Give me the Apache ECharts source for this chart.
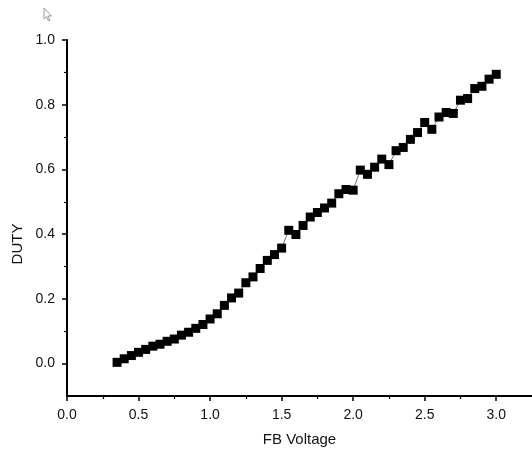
<!DOCTYPE html>
<html>
<head>
<meta charset="utf-8">
<script src="https://cdn.jsdelivr.net/npm/echarts@6/dist/echarts.min.js"></script>
<style>
html,body{margin:0;padding:0;background:#fff;}
#c{width:532px;height:456px;}
</style>
</head>
<body>
<div id="c"></div>
<script>
var fbVoltage = [0.35,0.40,0.45,0.50,0.55,0.60,0.65,0.70,0.75,0.80,
                 0.85,0.90,0.95,1.00,1.05,1.10,1.15,1.20,1.25,1.30,
                 1.35,1.40,1.45,1.50,1.55,1.60,1.65,1.70,1.75,1.80,
                 1.85,1.90,1.95,2.00,2.05,2.10,2.15,2.20,2.25,2.30,
                 2.35,2.40,2.45,2.50,2.55,2.60,2.65,2.70,2.75,2.80,
                 2.85,2.90,2.95,3.00];
var duty = [0.004,0.015,0.025,0.035,0.044,0.054,0.060,0.069,0.076,0.088,
            0.097,0.109,0.121,0.138,0.154,0.180,0.203,0.218,0.250,0.268,
            0.294,0.319,0.337,0.357,0.412,0.399,0.427,0.453,0.467,0.481,
            0.496,0.525,0.538,0.536,0.598,0.585,0.607,0.632,0.615,0.658,
            0.668,0.693,0.714,0.745,0.724,0.762,0.776,0.773,0.814,0.819,
            0.850,0.857,0.879,0.894];
var xTickLabels = [0.0,0.5,1.0,1.5,2.0,2.5,3.0];
var xMinorTicks = [0.25,0.75,1.25,1.75,2.25,2.75];
var yTickLabels = [0.0,0.2,0.4,0.6,0.8,1.0];
var yMinorTicks = [0.1,0.3,0.5,0.7,0.9];

var font = '"Liberation Sans", Arial, sans-serif';
var chart = echarts.init(document.getElementById('c'), null, {renderer:'canvas'});
var pts = fbVoltage.map(function(x,i){return [x, duty[i]];});

chart.setOption({
  animation:false,
  backgroundColor:'#ffffff',
  grid:{left:67, top:40, right:-1, bottom:60, containLabel:false},
  xAxis:[{
    type:'value', min:0, max:3.25, interval:0.5,
    name:'FB Voltage', nameLocation:'middle', nameGap:36,
    nameTextStyle:{fontFamily:font, fontSize:15, color:'#111'},
    axisLine:{show:true, onZero:false, lineStyle:{color:'#000', width:2}},
    axisTick:{show:true, inside:false, length:5, customValues:xTickLabels, lineStyle:{color:'#000', width:1.5}},
    axisLabel:{customValues:xTickLabels, margin:12, fontFamily:font, fontSize:14, color:'#111',
      formatter:function(v){return v.toFixed(1);}},
    splitLine:{show:false}
  },{
    type:'value', min:0, max:3.25, interval:0.25, position:'bottom',
    axisLine:{show:false, onZero:false},
    axisTick:{show:true, length:3, customValues:xMinorTicks, lineStyle:{color:'#000', width:1.2}},
    axisLabel:{show:false}, splitLine:{show:false}
  }],
  yAxis:[{
    type:'value', min:-0.1, max:1.0, interval:0.1,
    axisLine:{show:true, onZero:false, lineStyle:{color:'#000', width:2}},
    axisTick:{show:true, length:5, customValues:yTickLabels, lineStyle:{color:'#000', width:1.5}},
    axisLabel:{customValues:yTickLabels, margin:12, fontFamily:font, fontSize:14, color:'#111',
      formatter:function(v){return v.toFixed(1);}},
    splitLine:{show:false}
  },{
    type:'value', min:-0.1, max:1.0, interval:0.1, position:'left',
    axisLine:{show:false, onZero:false},
    axisTick:{show:true, length:3, customValues:yMinorTicks, lineStyle:{color:'#000', width:1.2}},
    axisLabel:{show:false}, splitLine:{show:false}
  }],
  graphic:[
    {type:'text', x:18, y:244, rotation:Math.PI/2,
     style:{text:'DUTY', fontFamily:font, fontSize:15, fill:'#111', align:'center', verticalAlign:'middle'}},
    {type:'polygon', shape:{points:[[44,8],[44,19],[46.5,16.5],[48.5,21],[50,20.3],[48,16],[51.5,16]]},
     style:{fill:'#fff', stroke:'#999', lineWidth:1}}
  ],
  series:[{
    type:'line', xAxisIndex:0, yAxisIndex:0,
    data:pts,
    symbol:'rect', symbolSize:9, showAllSymbol:true,
    itemStyle:{color:'#000'},
    lineStyle:{color:'#777', width:1}
  }]
});
</script>
</body>
</html>
